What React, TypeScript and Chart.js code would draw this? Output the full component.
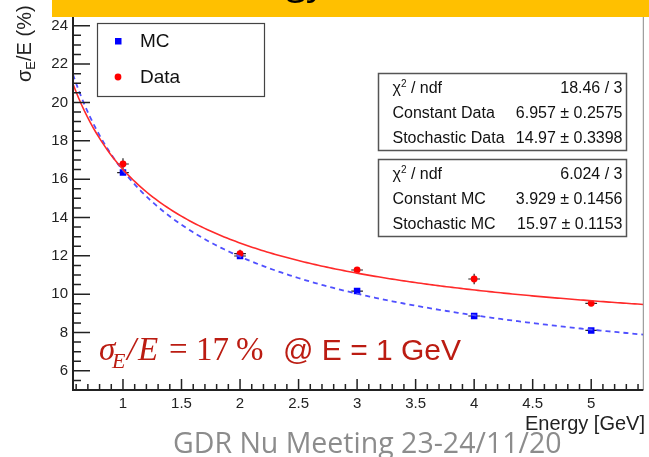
import { useEffect, useRef } from "react";
import { Chart, registerables } from "chart.js";

Chart.register(...registerables);

// Measured resolution points (sigma_E / E in %) per beam energy (GeV)
const energies = [1, 2, 3, 4, 5];
const energyErr = [0.05, 0.05, 0.05, 0.05, 0.05];
const dataRes = [16.79, 12.11, 11.26, 10.79, 9.52];
const dataResErr = [0.3, 0.2, 0.12, 0.27, 0.12];
const mcRes = [16.34, 11.99, 10.16, 8.86, 8.11];
const mcResErr = [0.08, 0.07, 0.06, 0.06, 0.05];

// Fit results: sigma/E = sqrt(constant^2 + stochastic^2 / E)
const fitDataConstant = 6.957;
const fitDataStochastic = 14.97;
const fitMcConstant = 3.929;
const fitMcStochastic = 15.97;

const statsData = [
  ["chi2", "18.46 / 3"],
  ["Constant Data", "6.957 ± 0.2575"],
  ["Stochastic Data", "14.97 ± 0.3398"],
];
const statsMc = [
  ["chi2", "6.024 / 3"],
  ["Constant MC", "3.929 ± 0.1456"],
  ["Stochastic MC", "15.97 ± 0.1153"],
];

const xTickValues = [1, 1.5, 2, 2.5, 3, 3.5, 4, 4.5, 5];
const xTickLabels = ["1", "1.5", "2", "2.5", "3", "3.5", "4", "4.5", "5"];
const yTickValues = [6, 8, 10, 12, 14, 16, 18, 20, 22, 24];
const yTickLabels = ["6", "8", "10", "12", "14", "16", "18", "20", "22", "24"];

const X_MIN = 0.573;
const X_MAX = 5.445;
const Y_MIN = 5;
const Y_MAX = 25;

const SANS = '"Liberation Sans", Arial, sans-serif';
const SERIF = '"Liberation Serif", "Times New Roman", serif';

function fitCurve(constant: number, stochastic: number) {
  const pts: { x: number; y: number }[] = [];
  const steps = 200;
  for (let i = 0; i <= steps; i++) {
    const e = X_MIN + ((X_MAX - X_MIN) * i) / steps;
    pts.push({ x: e, y: Math.sqrt(constant * constant + (stochastic * stochastic) / e) });
  }
  return pts;
}

const errorBars = {
  id: "errorBars",
  beforeDatasetsDraw(chart: any) {
    const { ctx, chartArea, scales } = chart;
    const xs = scales.x;
    const ys = scales.y;
    ctx.save();
    ctx.beginPath();
    ctx.rect(chartArea.left, chartArea.top, chartArea.right - chartArea.left, chartArea.bottom - chartArea.top);
    ctx.clip();
    ctx.strokeStyle = "#222";
    ctx.lineWidth = 1.2;
    const series = [
      [dataRes, dataResErr],
      [mcRes, mcResErr],
    ];
    for (const [vals, errs] of series) {
      energies.forEach((e, i) => {
        const px = xs.getPixelForValue(e);
        const py = ys.getPixelForValue(vals[i]);
        ctx.beginPath();
        ctx.moveTo(xs.getPixelForValue(e - energyErr[i]), py);
        ctx.lineTo(xs.getPixelForValue(e + energyErr[i]), py);
        ctx.moveTo(px, ys.getPixelForValue(vals[i] - errs[i]));
        ctx.lineTo(px, ys.getPixelForValue(vals[i] + errs[i]));
        ctx.stroke();
      });
    }
    ctx.restore();
  },
};

function drawStatsBox(ctx: CanvasRenderingContext2D, top: number, rows: string[][]) {
  const left = 378.5;
  const width = 248;
  const height = 77;
  ctx.fillStyle = "#ffffff";
  ctx.fillRect(left, top, width, height);
  ctx.strokeStyle = "#555";
  ctx.lineWidth = 1.5;
  ctx.strokeRect(left, top, width, height);
  ctx.fillStyle = "#111";
  ctx.textBaseline = "alphabetic";
  rows.forEach((row, i) => {
    const base = top + 19 + i * 25.3;
    ctx.font = `16px ${SANS}`;
    ctx.textAlign = "left";
    if (row[0] === "chi2") {
      const x0 = left + 14;
      ctx.fillText("χ", x0, base);
      const w = ctx.measureText("χ").width;
      ctx.font = `10px ${SANS}`;
      ctx.fillText("2", x0 + w, base - 6);
      const w2 = ctx.measureText("2").width;
      ctx.font = `16px ${SANS}`;
      ctx.fillText(" / ndf", x0 + w + w2, base);
    } else {
      ctx.fillText(row[0], left + 14, base);
    }
    ctx.textAlign = "right";
    ctx.fillText(row[1], left + width - 4, base);
  });
}

const decorations = {
  id: "decorations",
  afterDraw(chart: any) {
    const { ctx, chartArea, scales } = chart;
    const xs = scales.x;
    const ys = scales.y;
    const { left, right, top, bottom } = chartArea;
    ctx.save();

    // frame
    ctx.strokeStyle = "#888";
    ctx.lineWidth = 1;
    ctx.beginPath();
    ctx.moveTo(right, top);
    ctx.lineTo(right, bottom);
    ctx.stroke();
    ctx.strokeStyle = "#222";
    ctx.lineWidth = 2;
    ctx.beginPath();
    ctx.moveTo(left, top);
    ctx.lineTo(left, bottom);
    ctx.lineTo(right, bottom);
    ctx.stroke();

    // y ticks
    ctx.lineWidth = 1.5;
    ctx.beginPath();
    for (let v = Y_MIN; v <= Y_MAX + 1e-6; v += 0.5) {
      const py = ys.getPixelForValue(v);
      const major = Math.abs(v / 2 - Math.round(v / 2)) < 1e-6;
      ctx.moveTo(left, py);
      ctx.lineTo(left + (major ? 17 : 8), py);
    }
    ctx.stroke();
    // x ticks
    ctx.beginPath();
    for (let k = 6; k <= 54; k++) {
      const v = k / 10;
      if (v < X_MIN || v > X_MAX) continue;
      const px = xs.getPixelForValue(v);
      const major = k % 5 === 0;
      ctx.moveTo(px, bottom);
      ctx.lineTo(px, bottom - (major ? 11 : 6));
    }
    ctx.stroke();

    ctx.fillStyle = "#222";
    ctx.font = `15px ${SANS}`;
    ctx.textAlign = "right";
    ctx.textBaseline = "middle";
    yTickValues.forEach((v, i) => ctx.fillText(yTickLabels[i], left - 5, ys.getPixelForValue(v)));
    ctx.textAlign = "center";
    ctx.textBaseline = "top";
    xTickValues.forEach((v, i) => ctx.fillText(xTickLabels[i], xs.getPixelForValue(v), bottom + 6));

    // x title
    ctx.font = `20px ${SANS}`;
    ctx.textAlign = "right";
    ctx.textBaseline = "alphabetic";
    ctx.fillText("Energy [GeV]", 645, 430);

    // y title
    ctx.save();
    ctx.translate(31, 82);
    ctx.rotate(-Math.PI / 2);
    ctx.textAlign = "left";
    let tx = 0;
    ctx.font = `20px ${SANS}`;
    ctx.fillText("σ", tx, 0);
    tx += ctx.measureText("σ").width;
    ctx.font = `13px ${SANS}`;
    ctx.fillText("E", tx, 4);
    tx += ctx.measureText("E").width;
    ctx.font = `20px ${SANS}`;
    ctx.fillText("/E (%)", tx, 0);
    ctx.restore();

    // legend
    ctx.fillStyle = "#ffffff";
    ctx.fillRect(97.5, 23.5, 167, 73);
    ctx.strokeStyle = "#444";
    ctx.lineWidth = 1.2;
    ctx.strokeRect(97.5, 23.5, 167, 73);
    ctx.fillStyle = "#0000ff";
    ctx.fillRect(115, 38, 6.5, 6.5);
    ctx.fillStyle = "#ff0000";
    ctx.beginPath();
    ctx.arc(118, 77, 3.4, 0, Math.PI * 2);
    ctx.fill();
    ctx.fillStyle = "#111";
    ctx.font = `19px ${SANS}`;
    ctx.textAlign = "left";
    ctx.textBaseline = "middle";
    ctx.fillText("MC", 140, 42);
    ctx.fillText("Data", 140, 78);

    // fit statistics
    drawStatsBox(ctx, 73.5, statsData);
    drawStatsBox(ctx, 159.5, statsMc);

    // resolution annotation
    ctx.fillStyle = "#bb1c12";
    ctx.textBaseline = "alphabetic";
    ctx.textAlign = "left";
    const ay = 360;
    ctx.font = `italic 33px ${SERIF}`;
    ctx.fillText("σ", 99, ay);
    ctx.font = `italic 22px ${SERIF}`;
    ctx.fillText("E", 112, ay + 8);
    ctx.font = `italic 33px ${SERIF}`;
    ctx.fillText("/", 127, ay);
    ctx.fillText("E", 138, ay);
    ctx.font = `33px ${SERIF}`;
    ctx.fillText("=", 169, ay);
    ctx.fillText("17", 196, ay);
    ctx.fillText("%", 236, ay);
    ctx.font = `30px ${SANS}`;
    ctx.fillText("@ E = 1 GeV", 283, ay);

    // header banner
    ctx.fillStyle = "#ffc000";
    ctx.fillRect(52, 0, 597, 17);
    ctx.fillStyle = "#000";
    ctx.font = `38px "Open Sans", sans-serif`;
    ctx.textAlign = "left";
    ctx.textBaseline = "alphabetic";
    const lead = ctx.measureText("Ener").width;
    ctx.fillText("Energy resolution", 286 - lead, -6);

    // footer
    ctx.fillStyle = "#8c8c8c";
    ctx.font = `28.5px "Open Sans", sans-serif`;
    ctx.fillText("GDR Nu Meeting 23-24/11/20", 173, 453);

    ctx.restore();
  },
};

export default function App() {
  const canvasRef = useRef<HTMLCanvasElement | null>(null);

  useEffect(() => {
    const canvas = canvasRef.current;
    if (!canvas) return;
    const chart = new Chart(canvas, {
      type: "scatter",
      data: {
        datasets: [
          {
            label: "Data fit",
            data: fitCurve(fitDataConstant, fitDataStochastic),
            showLine: true,
            pointRadius: 0,
            borderColor: "#ff2a2a",
            borderWidth: 1.6,
            order: 0,
          },
          {
            label: "MC fit",
            data: fitCurve(fitMcConstant, fitMcStochastic),
            showLine: true,
            pointRadius: 0,
            borderColor: "#5050ff",
            borderWidth: 1.8,
            borderDash: [5, 4],
            order: 0,
          },
          {
            label: "Data",
            data: energies.map((e, i) => ({ x: e, y: dataRes[i] })),
            pointStyle: "circle",
            pointRadius: 3.4,
            backgroundColor: "#ff0000",
            borderWidth: 0,
            order: 1,
          },
          {
            label: "MC",
            data: energies.map((e, i) => ({ x: e, y: mcRes[i] })),
            pointStyle: "rect",
            pointRadius: 4.6,
            backgroundColor: "#0000ff",
            borderWidth: 0,
            order: 1,
          },
        ],
      },
      options: {
        responsive: false,
        animation: false,
        devicePixelRatio: 1,
        layout: { padding: { top: 6.6, right: 5.7, left: 0, bottom: 0 } },
        plugins: { legend: { display: false }, tooltip: { enabled: false } },
        scales: {
          x: {
            type: "linear",
            min: X_MIN,
            max: X_MAX,
            ticks: { display: false },
            grid: { display: false },
            border: { display: false },
            afterFit: (s: any) => {
              s.height = 67;
            },
          },
          y: {
            type: "linear",
            min: Y_MIN,
            max: Y_MAX,
            ticks: { display: false },
            grid: { display: false },
            border: { display: false },
            afterFit: (s: any) => {
              s.width = 73;
            },
          },
        },
      },
      plugins: [errorBars, decorations],
    });
    return () => chart.destroy();
  }, []);

  return (
    <div style={{ position: "absolute", left: 0, top: 0, width: 649, height: 457, background: "#fff" }}>
      <canvas ref={canvasRef} width={649} height={457} />
    </div>
  );
}
